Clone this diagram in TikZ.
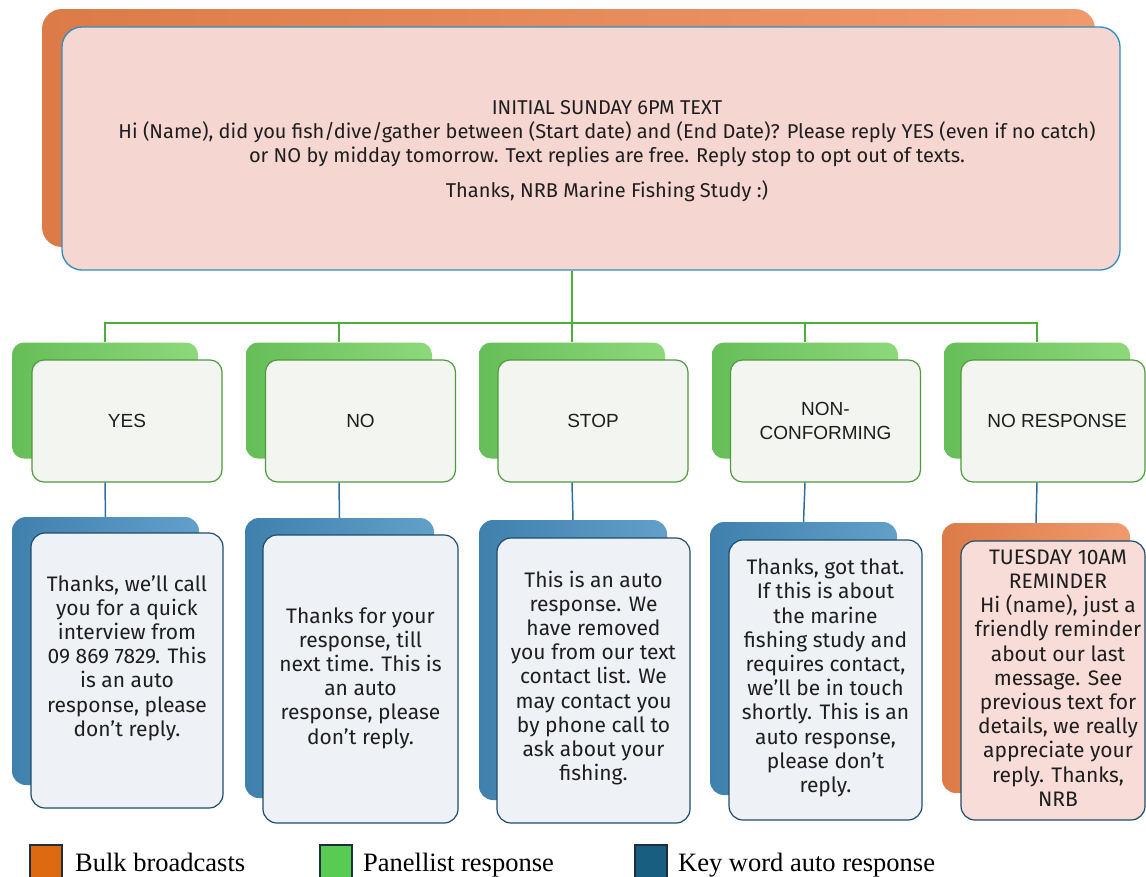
\documentclass[tikz,border=0pt]{standalone}
\usepackage{fontspec}
\setmainfont{Fira Sans}
\newfontfamily\arialf{Liberation Sans}
\newfontfamily\legf{Liberation Serif}
\definecolor{orA}{HTML}{DC7B48}
\definecolor{orB}{HTML}{F09A6C}
\definecolor{pinkF}{HTML}{F6D6D0}
\definecolor{topBd}{HTML}{2F8EC0}
\definecolor{grA}{HTML}{66BE58}
\definecolor{grB}{HTML}{8ED87C}
\definecolor{grF}{HTML}{F2F5F0}
\definecolor{grBd}{HTML}{4E9A3C}
\definecolor{grL}{HTML}{4CAF3A}
\definecolor{blA}{HTML}{3F80AD}
\definecolor{blB}{HTML}{62A0CA}
\definecolor{blF}{HTML}{EEF2F7}
\definecolor{blBd}{HTML}{1E4D6C}
\definecolor{blL}{HTML}{2E6E9E}
\definecolor{tuF}{HTML}{F8DCD8}
\definecolor{txt}{HTML}{1E1E1E}
\definecolor{legO}{HTML}{DD6A10}
\definecolor{legG}{HTML}{57CC50}
\definecolor{legB}{HTML}{175E80}
\definecolor{legBd}{HTML}{1E2E3E}
\begin{document}
\begin{tikzpicture}[x=1pt,y=-1pt,
  box/.style={rectangle, inner sep=0pt},
  orback/.style={box, rounded corners=20pt, left color=orA, right color=orB},
  topfront/.style={box, rounded corners=20pt, fill=pinkF, draw=topBd, line width=1.3pt},
  gback/.style={box, rounded corners=12pt, left color=grA, right color=grB},
  gfront/.style={box, rounded corners=12pt, fill=grF, draw=grBd, line width=1.2pt, text=txt, font=\arialf\fontsize{19}{24}\selectfont, align=center},
  bback/.style={box, rounded corners=14pt, left color=blA, right color=blB},
  oback/.style={box, rounded corners=14pt, left color=orA, right color=orB},
  bfront/.style={box, rounded corners=14pt, fill=blF, draw=blBd, line width=1.2pt},
  tfront/.style={box, rounded corners=14pt, fill=tuF, draw=blBd, line width=1.2pt},
  btext/.style={text=txt, align=center, inner sep=0pt, font=\fontsize{21}{24.2}\selectfont},
  greenl/.style={draw=grL, line width=1.8pt},
  bluel/.style={draw=blL, line width=1.5pt},
  legsq/.style={box, draw=legBd, line width=1.2pt, minimum width=32pt, minimum height=34pt},
  legtext/.style={anchor=base west, inner sep=0pt, font=\legf\fontsize{26.5}{26.5}\selectfont, text=black}
]
\useasboundingbox (0,0) rectangle (1146,876);

% top
\node[orback, minimum width=1053pt, minimum height=238pt] (topB) at (568.5,128) {};
\node[topfront, minimum width=1058pt, minimum height=243pt] (top) at (591,148.5) {};
\node[btext, font=\fontsize{20}{24}\selectfont] (topT) at (607,151) {INITIAL SUNDAY 6PM TEXT\\
Hi (Name), did you fish/dive/gather between (Start date) and (End Date)? Please reply YES (even if no catch)\\
or NO by midday tomorrow. Text replies are free. Reply stop to opt out of texts.\\[11pt]
Thanks, NRB Marine Fishing Study :)};

% green level
\foreach \n/\bx in {yes/105, no/339, stop/572, nonc/805, nore/1037}{
  \node[gback, minimum width=186pt, minimum height=116pt] (\n GB) at (\bx,400.5) {};
}
\node[gfront, minimum width=190pt, minimum height=122pt] (yesG) at (127,421) {YES};
\node[gfront, minimum width=190pt, minimum height=122pt] (noG) at (360.5,421) {NO};
\node[gfront, minimum width=190pt, minimum height=122pt] (stopG) at (593,421) {STOP};
\node[gfront, minimum width=190pt, minimum height=122pt] (noncG) at (825.5,421) {NON-\\CONFORMING};
\node[gfront, minimum width=184pt, minimum height=122pt] (noreG) at (1053,421) {\hspace*{8pt}NO RESPONSE};

% lower level
\node[bback, minimum width=187pt, minimum height=268pt] (yesBB) at (105.5,651) {};
\node[bfront, minimum width=192pt, minimum height=275pt] (yesB) at (127,670.5) {};
\node[btext] (yesT) at (127,658) {Thanks, we'll call\\you for a quick\\interview from\\09 869 7829. This\\is an auto\\response, please\\don't reply.};

\node[bback, minimum width=189pt, minimum height=280pt] (noBB) at (339.5,658) {};
\node[bfront, minimum width=195pt, minimum height=288pt] (noB) at (360.5,679) {};
\node[btext] (noT) at (360.5,678) {Thanks for your\\response, till\\next time. This is\\an auto\\response, please\\don't reply.};

\node[bback, minimum width=188pt, minimum height=280pt] (stopBB) at (573,660) {};
\node[bfront, minimum width=193pt, minimum height=285pt] (stopB) at (593.5,680.5) {};
\node[btext] (stopT) at (593.5,678) {This is an auto\\response. We\\have removed\\you from our text\\contact list. We\\may contact you\\by phone call to\\ask about your\\fishing.};

\node[bback, minimum width=187pt, minimum height=273pt] (noncBB) at (803.5,658.5) {};
\node[bfront, minimum width=193pt, minimum height=280pt] (noncB) at (825.5,680) {};
\node[btext] (noncT) at (825.5,678) {Thanks, got that.\\If this is about\\the marine\\fishing study and\\requires contact,\\we'll be in touch\\shortly. This is an\\auto response,\\please don't\\reply.};

\node[oback, minimum width=188pt, minimum height=270pt] (noreBB) at (1036,658) {};
\node[tfront, minimum width=184pt, minimum height=279pt] (noreB) at (1053,680.5) {};
\node[btext] (noreT) at (1058,678) {TUESDAY 10AM\\REMINDER\\Hi (name), just a\\friendly reminder\\about our last\\message. See\\previous text for\\details, we really\\appreciate your\\reply. Thanks,\\NRB};

% connectors
\coordinate (hub) at (572,323);
\draw[greenl] (hub |- top.south) -- (hub);
\foreach \n in {yes,no,stop,nonc,nore}{
  \draw[greenl] (\n GB.north) |- (hub);
  \draw[bluel] (\n GB.center |- \n G.south) -- (\n BB.north);
}

% legend
\node[legsq, fill=legO] (lo) at (46,862) {};
\node[legtext] (loT) at (75,871) {Bulk broadcasts};
\node[legsq, fill=legG] (lg) at (336,862) {};
\node[legtext] (lgT) at (363,871) {Panellist response};
\node[legsq, fill=legB] (lb) at (651,862) {};
\node[legtext] (lbT) at (678,871) {Key word auto response};
\end{tikzpicture}
\end{document}
